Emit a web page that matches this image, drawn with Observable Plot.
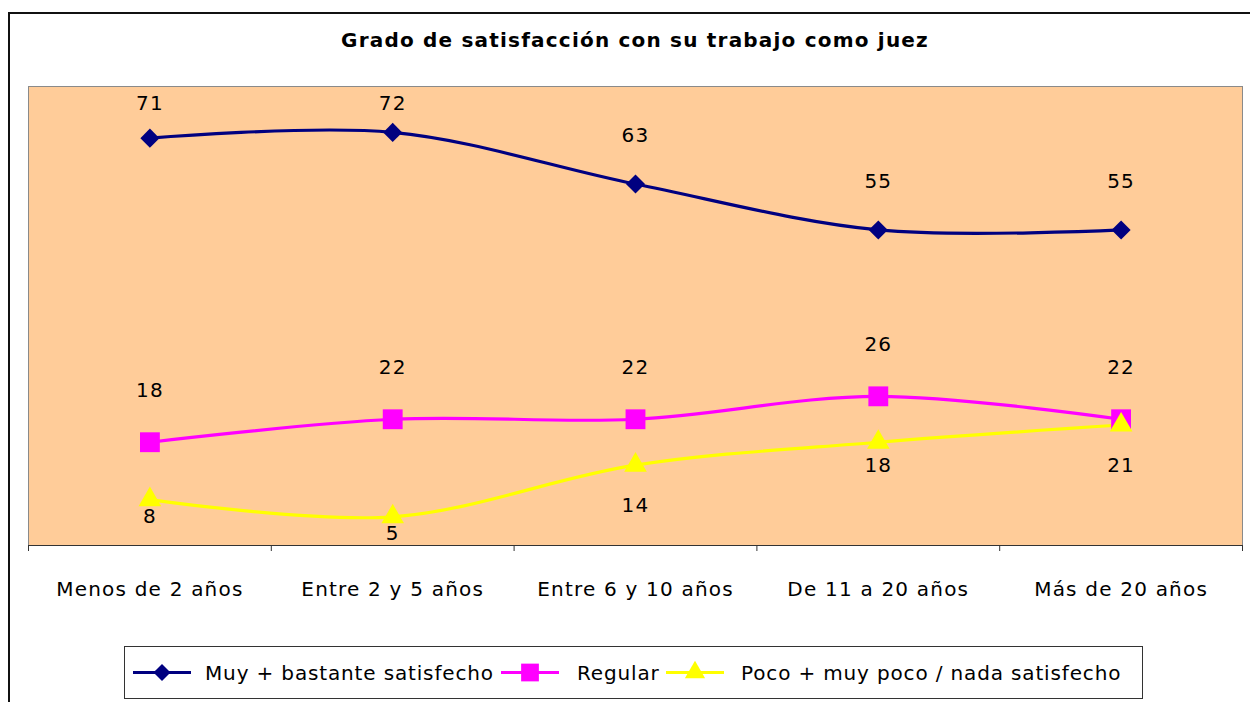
<!DOCTYPE html>
<html>
<head>
<meta charset="utf-8">
<script src="https://cdn.jsdelivr.net/npm/d3@7"></script>
<script src="https://cdn.jsdelivr.net/npm/@observablehq/plot@0.6"></script>
<style>
  html, body { margin: 0; padding: 0; background: #fff; }
  #wrap { position: relative; width: 1250px; height: 702px; overflow: hidden; font-family: "DejaVu Sans", sans-serif; }
  #frame { position: absolute; left: 8px; top: 12px; width: 1400px; height: 900px; border-left: 2px solid #111; border-top: 2px solid #111; }
  #title { position: absolute; left: 28px; width: 1214px; top: 25px; height: 30px; text-align: center; font-weight: bold; font-size: 20px; letter-spacing: 1.2px; line-height: 30px; color: #000; }
  #chart { position: absolute; left: 0; top: 70px; }
  #chart svg text { letter-spacing: 1.2px; }
  #legend { position: absolute; left: 124px; top: 646px; width: 1017px; height: 51px; border: 1px solid #333; background: #fff; }
</style>
</head>
<body>
<div id="wrap">
  <div id="frame"></div>
  <div id="title">Grado de satisfacción con su trabajo como juez</div>
  <div id="chart"></div>
  <div id="legend"></div>
</div>
<script>
const categories = ["Menos de 2 años", "Entre 2 y 5 años", "Entre 6 y 10 años", "De 11 a 20 años", "Más de 20 años"];
const seriesNames = ["Muy + bastante satisfecho", "Regular", "Poco + muy poco / nada satisfecho"];
const muyBastante = [71, 72, 63, 55, 55];
const regular = [18, 22, 22, 26, 22];
const poco = [8, 5, 14, 18, 21];
const seriesColors = ["#000080", "#FF00FF", "#FFFF00"];

const seriesValues = [muyBastante, regular, poco];
const data = seriesNames.flatMap((s, si) =>
  categories.map((c, i) => ({ series: s, si, cat: c, xi: i + 0.5, value: seriesValues[si][i], idx: i }))
);

const symbols = ["diamond2", "square", "triangle"];
const radii = [8.6, 11.2, 8.4];

// label placement (Excel-like): above for first two series, below for the last
function labelY(d) {
  if (d.si === 0) return Math.min(d.value + 8.5, 77.1);
  if (d.si === 1) return d.value + 9;
  const below = [2.9, 2.9, 7, 4.1, 7];
  return d.value - below[d.idx];
}

const marks = [
  Plot.frame({ fill: "#FFCC99", stroke: "#8a8a8a" }),
  Plot.axisX({ ticks: d3.range(categories.length + 1), tickSize: 6, tickFormat: () => "", stroke: "#333", label: null }),
  Plot.axisX({
    ticks: categories.map((c, i) => i + 0.5),
    tickSize: 0,
    tickPadding: 36,
    tickFormat: v => categories[Math.round(v - 0.5)],
    fontSize: 20,
    fill: "#000",
    label: null
  }),
  Plot.ruleY([0], { stroke: "#333", strokeWidth: 1.2 }),
  Plot.line(data, { x: "xi", y: "value", z: "series", stroke: "series", strokeWidth: 3.2, curve: "cardinal" })
];
seriesNames.forEach((s, si) => {
  marks.push(Plot.dot(data.filter(d => d.si === si), {
    x: "xi", y: "value", symbol: () => symbols[si], r: radii[si], fill: "series", stroke: "none"
  }));
});
marks.push(Plot.text(data, {
  x: "xi", y: labelY, text: d => String(d.value), fontSize: 20, fill: "#000"
}));

const chart = Plot.plot({
  width: 1250,
  height: 560,
  marginLeft: 28,
  marginRight: 8,
  marginTop: 16,
  marginBottom: 85,
  style: { fontFamily: "DejaVu Sans, sans-serif", background: "transparent", overflow: "visible" },
  x: { type: "linear", domain: [0, categories.length], axis: null },
  y: { domain: [0, 80], axis: null },
  color: { domain: seriesNames, range: seriesColors },
  symbol: { type: "identity" },
  marks
});
document.getElementById("chart").appendChild(chart);

// Legend
const lg = d3.select("#legend").append("svg").attr("width", 1017).attr("height", 51)
  .style("font-family", "DejaVu Sans, sans-serif");
const items = [
  { x0: 8, tx: 80 },
  { x0: 376, tx: 452 },
  { x0: 541, tx: 616 }
];
const symGen = [d3.symbolDiamond2, d3.symbolSquare, d3.symbolTriangle];
seriesNames.forEach((s, si) => {
  const it = items[si];
  const cy = 25.5;
  lg.append("line").attr("x1", it.x0).attr("x2", it.x0 + 58).attr("y1", cy).attr("y2", cy)
    .attr("stroke", seriesColors[si]).attr("stroke-width", 3);
  lg.append("path").attr("transform", `translate(${it.x0 + 29},${cy})`)
    .attr("d", d3.symbol(symGen[si], Math.PI * radii[si] * radii[si] * 0.8)())
    .attr("fill", seriesColors[si]);
  lg.append("text").attr("x", it.tx).attr("y", cy).attr("dy", "0.35em")
    .attr("font-size", 20).attr("letter-spacing", "0.85px").attr("fill", "#000").text(s);
});
</script>
</body>
</html>
